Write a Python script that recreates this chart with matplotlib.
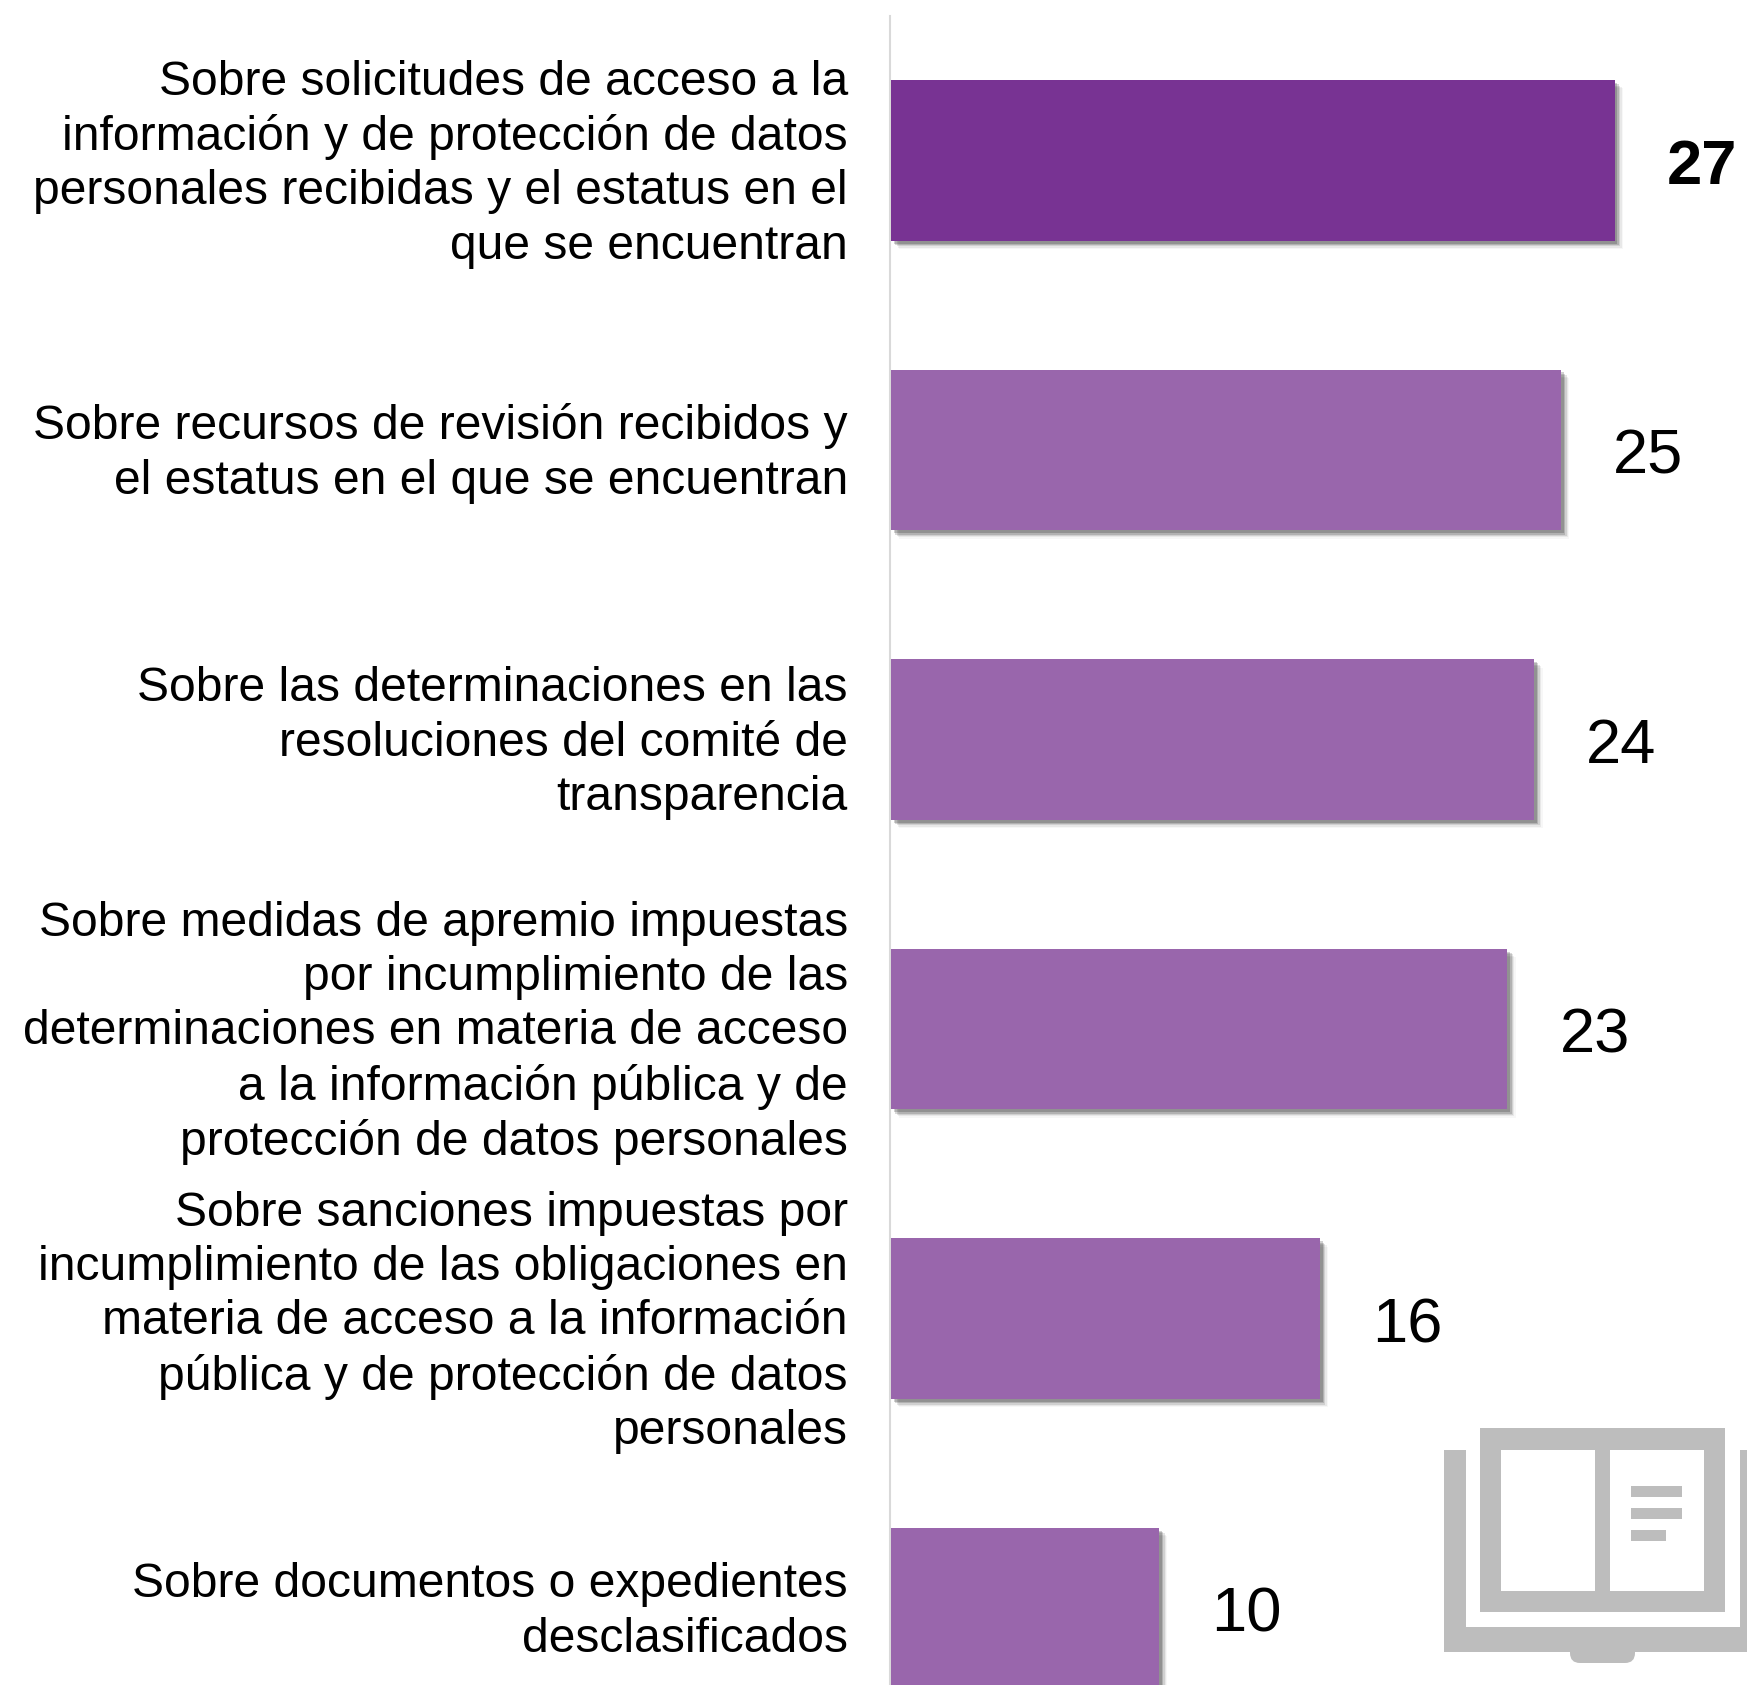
import matplotlib
matplotlib.use("Agg")
import matplotlib.pyplot as plt
import matplotlib.patheffects as pe
from matplotlib.patches import Rectangle, FancyBboxPatch
from matplotlib.transforms import ScaledTranslation

plt.rcParams['font.family'] = ['Liberation Sans', 'DejaVu Sans']

# Data
labels = [
    "Sobre solicitudes de acceso a la\ninformación y de protección de datos\npersonales recibidas y el estatus en el\nque se encuentran",
    "Sobre recursos de revisión recibidos y\nel estatus en el que se encuentran",
    "Sobre las determinaciones en las\nresoluciones del comité de\ntransparencia",
    "Sobre medidas de apremio impuestas\npor incumplimiento de las\ndeterminaciones en materia de acceso\na la información pública y de\nprotección de datos personales",
    "Sobre sanciones impuestas por\nincumplimiento de las obligaciones en\nmateria de acceso a la información\npública y de protección de datos\npersonales",
    "Sobre documentos o expedientes\ndesclasificados",
]
values = [27, 25, 24, 23, 16, 10]
colors = ['#783393', '#9966AC', '#9966AC', '#9966AC', '#9966AC', '#9966AC']
weights = ['bold', 'normal', 'normal', 'normal', 'normal', 'normal']

W, H = 1747, 1685
fig = plt.figure(figsize=(W / 100, H / 100), dpi=100, facecolor='white')

# Main axes, from the axis line to the right and bottom edges of the picture
ax = fig.add_axes([891 / W, 0, 1 - 891 / W, 1])
ax.set_xlim(0, (W - 891) / 26.8)
ax.set_ylim(5.265, -0.554)
ax.patch.set_alpha(0)

bars = ax.barh(range(len(values)), values, height=0.555, color=colors, zorder=3)

# Soft shadow at the lower right of each bar
shadow = [pe.SimplePatchShadow(offset=(o, -o), shadow_rgbFace='#000000', alpha=a)
          for o, a in [(6.0, 0.03), (5.0, 0.06), (4.0, 0.10), (3.0, 0.15), (2.0, 0.18)]]
for bar in bars:
    bar.set_path_effects(shadow + [pe.Normal()])

for i, v in enumerate(values):
    ax.annotate(str(v), (v, i), xytext=(37.5, -5), textcoords='offset points',
                ha='left', va='center', fontsize=45.5, fontweight=weights[i],
                color='black')

for s in ['top', 'right', 'bottom']:
    ax.spines[s].set_visible(False)
ax.spines['left'].set_color('#D9D9D9')
ax.spines['left'].set_linewidth(1.5)
ax.spines['left'].set_position(('outward', 0.7))
ax.spines['left'].set_bounds(5.265, -0.5)

# set_position resets the ticks, so the labels come after it
ax.set_yticks(range(len(labels)))
ax.set_yticklabels(labels, fontsize=34.6, color='black', ha='right',
                   multialignment='right', linespacing=1.265)
ax.tick_params(axis='y', length=0, pad=30.3)
ax.set_xticks([])

# Labels sit a little above the bar centres
lift = ScaledTranslation(0, 6 / 100, fig.dpi_scale_trans)
for label in ax.get_yticklabels():
    label.set_transform(label.get_transform() + lift)

# Book icon, drawn in picture pixels
icon = fig.add_axes([0, 0, 1, 1])
icon.set_xlim(0, W)
icon.set_ylim(H, 0)
icon.axis('off')
icon.patch.set_alpha(0)
GRAY = '#BDBDBD'


def box(x0, y0, x1, y1, color=GRAY):
    icon.add_patch(Rectangle((x0, y0), x1 - x0, y1 - y0, facecolor=color, edgecolor='none'))


icon.add_patch(FancyBboxPatch((1570, 1640), 65, 23, boxstyle='round,pad=0,rounding_size=10',
                              facecolor=GRAY, edgecolor='none'))
box(1444, 1450, 1466, 1652)
box(1740, 1450, 1747, 1652)
box(1444, 1627, 1747, 1652)
box(1480, 1428, 1725, 1612)
box(1501, 1450, 1595, 1591, 'white')
box(1610, 1450, 1704, 1591, 'white')
box(1631, 1486, 1682, 1497)
box(1631, 1508, 1682, 1519)
box(1631, 1530, 1666, 1541)

fig.savefig('out.png', dpi=100, facecolor='white')
